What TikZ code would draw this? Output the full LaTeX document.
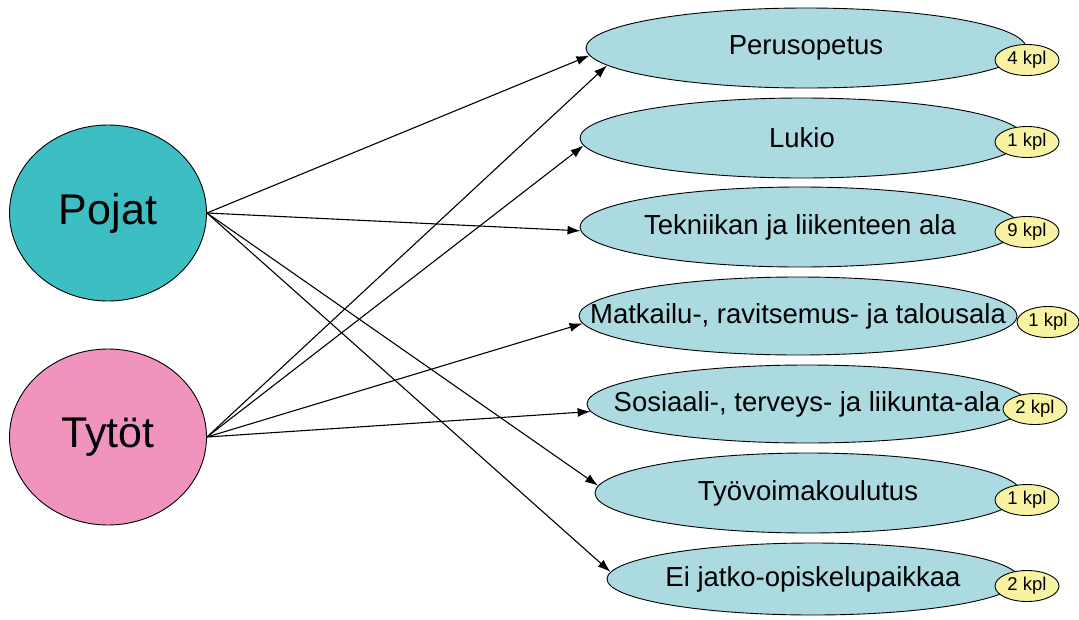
\documentclass[tikz,border=0pt]{standalone}
\usepackage{fontspec}
\setmainfont{Liberation Sans}
\usepackage{tikz}
\usetikzlibrary{shapes}
\usetikzlibrary{arrows.meta}

\definecolor{pojatvari}{RGB}{60,190,195}
\definecolor{tytotvari}{RGB}{240,148,190}
\definecolor{alavari}{RGB}{171,218,224}
\definecolor{kplvari}{RGB}{248,243,162}

\tikzset{
  ryhma/.style={ellipse,draw,line width=0.9pt,inner sep=0pt,minimum width=197pt,minimum height=176pt,font=\fontsize{43}{50}\selectfont},
  koulutus/.style={ellipse,draw,fill=alavari,line width=0.9pt,inner sep=0pt,minimum height=80pt,font=\fontsize{27.5}{32}\selectfont},
  kpl/.style={ellipse,draw,fill=kplvari,line width=0.9pt,inner sep=0pt,minimum width=64pt,minimum height=31pt,font=\fontsize{18.5}{20}\selectfont},
  nuoli/.style={-{Latex[length=13pt,width=9pt]},line width=1.1pt}
}

\begin{document}
\begin{tikzpicture}[x=1pt,y=-1pt]
   \useasboundingbox (0,0) rectangle (1079,619);
   \node[ryhma,fill=pojatvari] (pojat) at (108,213) {Pojat};
   \node[ryhma,fill=tytotvari] (tytot) at (108,437) {Tytöt};

   \node[koulutus,minimum width=440pt] (perus) at (806,48) {\makebox[0pt]{Perusopetus}};
   \node[koulutus,minimum width=444pt] (lukio) at (802,138) {\makebox[0pt]{Lukio}};
   \node[koulutus,minimum width=440pt] (tekn) at (800,227) {\makebox[0pt]{Tekniikan ja liikenteen ala}};
   \node[koulutus,minimum width=438pt,minimum height=78pt] (matk) at (798,316) {\makebox[0pt]{Matkailu-, ravitsemus- ja talousala}};
   \node[koulutus,minimum width=440pt,minimum height=78pt] (sos) at (807,404) {\makebox[0pt]{Sosiaali-, terveys- ja liikunta-ala}};
   \node[koulutus,minimum width=426pt] (tyo) at (808,493) {\makebox[0pt]{Työvoimakoulutus}};
   \node[koulutus,minimum width=412pt,minimum height=72pt] (ei) at (813,579) {\makebox[0pt]{Ei jatko-opiskelupaikkaa}};

   \node[kpl] (kpl1) at (1027,60) {4 kpl};
   \node[kpl] (kpl2) at (1027,142) {1 kpl};
   \node[kpl] (kpl3) at (1027,232) {9 kpl};
   \node[kpl,minimum width=62pt] (kpl4) at (1048,322) {1 kpl};
   \node[kpl] (kpl5) at (1035,409) {2 kpl};
   \node[kpl] (kpl6) at (1027,500) {1 kpl};
   \node[kpl] (kpl7) at (1027,586) {2 kpl};

   \draw[nuoli] (pojat.east) -- (perus.182);
   \draw[nuoli] (pojat.east) -- (tekn.181);
   \draw[nuoli] (pojat.east) -- (tyo.178);
   \draw[nuoli] (pojat.east) -- (ei.178.5);
   \draw[nuoli] (tytot.east) -- (perus.185);
   \draw[nuoli] (tytot.east) -- (lukio.182);
   \draw[nuoli] (tytot.east) -- (matk.182);
   \draw[nuoli] (tytot.east) -- (sos.182);
\end{tikzpicture}
\end{document}
